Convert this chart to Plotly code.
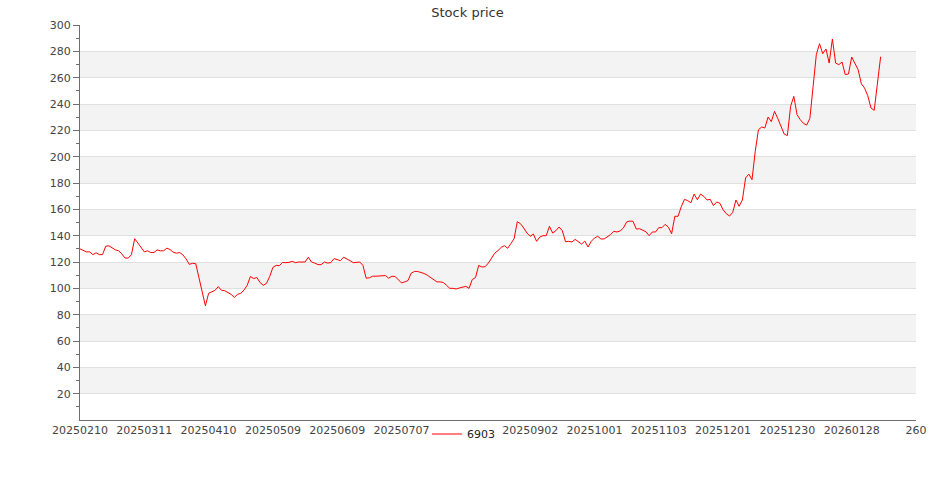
import plotly.graph_objects as go

title_text = "Stock price"
series_name = "6903"

# the label between 20250707 and 20250902 is hidden behind the legend in the reference
x_labels = ["20250210", "20250311", "20250410", "20250509", "20250609", "20250707",
            "", "20250902", "20251001", "20251103", "20251201", "20251230",
            "20260128", "260"]
label_step = 20

y_ticks = [20, 40, 60, 80, 100, 120, 140, 160, 180, 200, 220, 240, 260, 280, 300]
y_minor = [10, 30, 50, 70, 90, 110, 130, 150, 170, 190, 210, 230, 250, 270, 290]

prices = [
    130.0, 129.0, 127.7, 127.7, 125.6, 127.0, 125.6, 125.6, 132.0, 132.3,
    130.8, 129.2, 128.5, 126.2, 123.0, 123.0, 125.6, 137.7, 134.4, 130.8,
    127.7, 128.5, 127.2, 127.2, 129.2, 128.5, 128.5, 130.5, 129.5, 127.4,
    126.7, 127.2, 125.4, 122.3, 118.2, 119.0, 118.7, 108.0, 97.5, 86.7,
    96.2, 97.2, 98.5, 101.3, 98.5, 98.2, 96.9, 95.4, 93.1, 95.4,
    96.2, 98.7, 102.3, 109.0, 107.4, 108.2, 104.4, 102.3, 103.8, 109.0,
    115.9, 117.4, 117.2, 119.7, 119.5, 119.7, 120.5, 119.5, 120.0, 120.0,
    120.0, 123.6, 120.0, 119.2, 118.0, 118.0, 120.0, 119.2, 119.5, 122.6,
    121.8, 121.0, 123.6, 122.6, 121.0, 119.5, 120.0, 120.0, 117.4, 107.7,
    108.0, 109.2, 109.2, 109.2, 109.7, 109.7, 107.7, 109.2, 109.0, 106.9,
    104.1, 104.9, 105.9, 111.5, 112.8, 112.8, 112.3, 111.3, 110.0, 108.2,
    106.4, 104.9, 104.9, 104.4, 102.3, 100.0, 100.0, 99.5, 100.3, 100.8,
    101.5, 100.0, 106.7, 108.2, 117.4, 116.2, 116.4, 119.2, 123.0, 126.7,
    128.7, 131.1, 132.4, 130.4, 133.9, 137.7, 150.6, 149.1, 145.8, 142.0,
    139.5, 141.2, 135.7, 139.0, 140.0, 140.0, 147.1, 142.0, 143.8, 146.6,
    143.8, 135.4, 135.7, 135.2, 137.2, 135.2, 133.6, 135.9, 131.4, 135.7,
    138.2, 139.5, 137.5, 137.5, 139.0, 140.8, 143.3, 142.8, 143.6, 145.8,
    150.4, 151.1, 150.9, 145.0, 145.3, 144.0, 143.0, 140.0, 142.8, 142.8,
    146.1, 146.1, 148.6, 146.4, 141.5, 154.7, 154.7, 162.0, 167.6, 166.6,
    165.0, 171.6, 167.3, 171.6, 169.9, 167.1, 167.6, 162.8, 165.6, 164.6,
    159.7, 156.7, 154.9, 157.7, 167.1, 162.3, 167.1, 183.8, 186.8, 182.5,
    204.0, 220.5, 222.5, 221.8, 230.1, 226.6, 234.4, 229.1, 223.0, 217.2,
    216.0, 238.2, 245.8, 231.9, 228.1, 225.3, 224.0, 229.1, 253.4, 277.5,
    285.8, 278.2, 281.8, 271.1, 289.4, 271.1, 269.9, 271.9, 262.3, 262.8,
    275.7, 271.1, 266.1, 255.4, 252.1, 246.3, 237.0, 235.2, 254.7, 275.9,
]

FONT = "DejaVu Sans"
x_idx = list(range(len(prices)))
x_tickvals = [i * label_step for i in range(len(x_labels))]

fig = go.Figure()
fig.add_trace(go.Scatter(
    x=x_idx, y=prices, mode="lines", name=series_name,
    line=dict(color="#ff0000", width=1),
))

# alternating background bands between gridlines
shapes = []
for i in range(0, len(y_ticks) - 1, 2):
    shapes.append(dict(type="rect", xref="paper", yref="y", x0=0, x1=1,
                       y0=y_ticks[i], y1=y_ticks[i + 1],
                       fillcolor="#f3f3f3", line=dict(width=0), layer="below"))

fig.update_layout(
    template="none",
    width=935, height=500,
    margin=dict(l=80, r=19, t=25, b=80, pad=0, autoexpand=False),
    paper_bgcolor="white", plot_bgcolor="white",
    font=dict(family=FONT, size=11, color="#444"),
    title=dict(text=title_text, x=0.5, xanchor="center", y=0.976, yref="container",
               yanchor="middle", pad=dict(t=0, b=0, l=0, r=0),
               font=dict(size=13, color="#333", family=FONT)),
    shapes=shapes,
    showlegend=True,
    legend=dict(orientation="h", x=0.415, xanchor="left", y=0.132, yref="container",
                yanchor="middle", bgcolor="rgba(0,0,0,0)",
                font=dict(size=11, color="#222", family=FONT),
                borderwidth=0, itemwidth=30),
    xaxis=dict(
        range=[0, x_tickvals[-1]], tickmode="array", tickvals=x_tickvals,
        ticktext=x_labels, showgrid=False, zeroline=False, showline=True,
        linecolor="#6e6e6e", linewidth=1, ticks="", automargin=False,
        tickfont=dict(size=11, color="#444", family=FONT),
    ),
    yaxis=dict(
        range=[0, 300], tickmode="array", tickvals=y_ticks, showgrid=True,
        gridcolor="#e0e0e0", gridwidth=1, zeroline=False, showline=True,
        linecolor="#6e6e6e", linewidth=1, ticks="outside", ticklen=6,
        tickcolor="#6e6e6e", automargin=False,
        tickfont=dict(size=11, color="#444", family=FONT),
        minor=dict(tickmode="array", tickvals=y_minor, ticks="outside", ticklen=3,
                   tickcolor="#6e6e6e", showgrid=False),
    ),
)

fig.write_html("out.html", config={"displayModeBar": False},
               post_script="document.body.style.margin='0';document.body.style.overflow='hidden';")
